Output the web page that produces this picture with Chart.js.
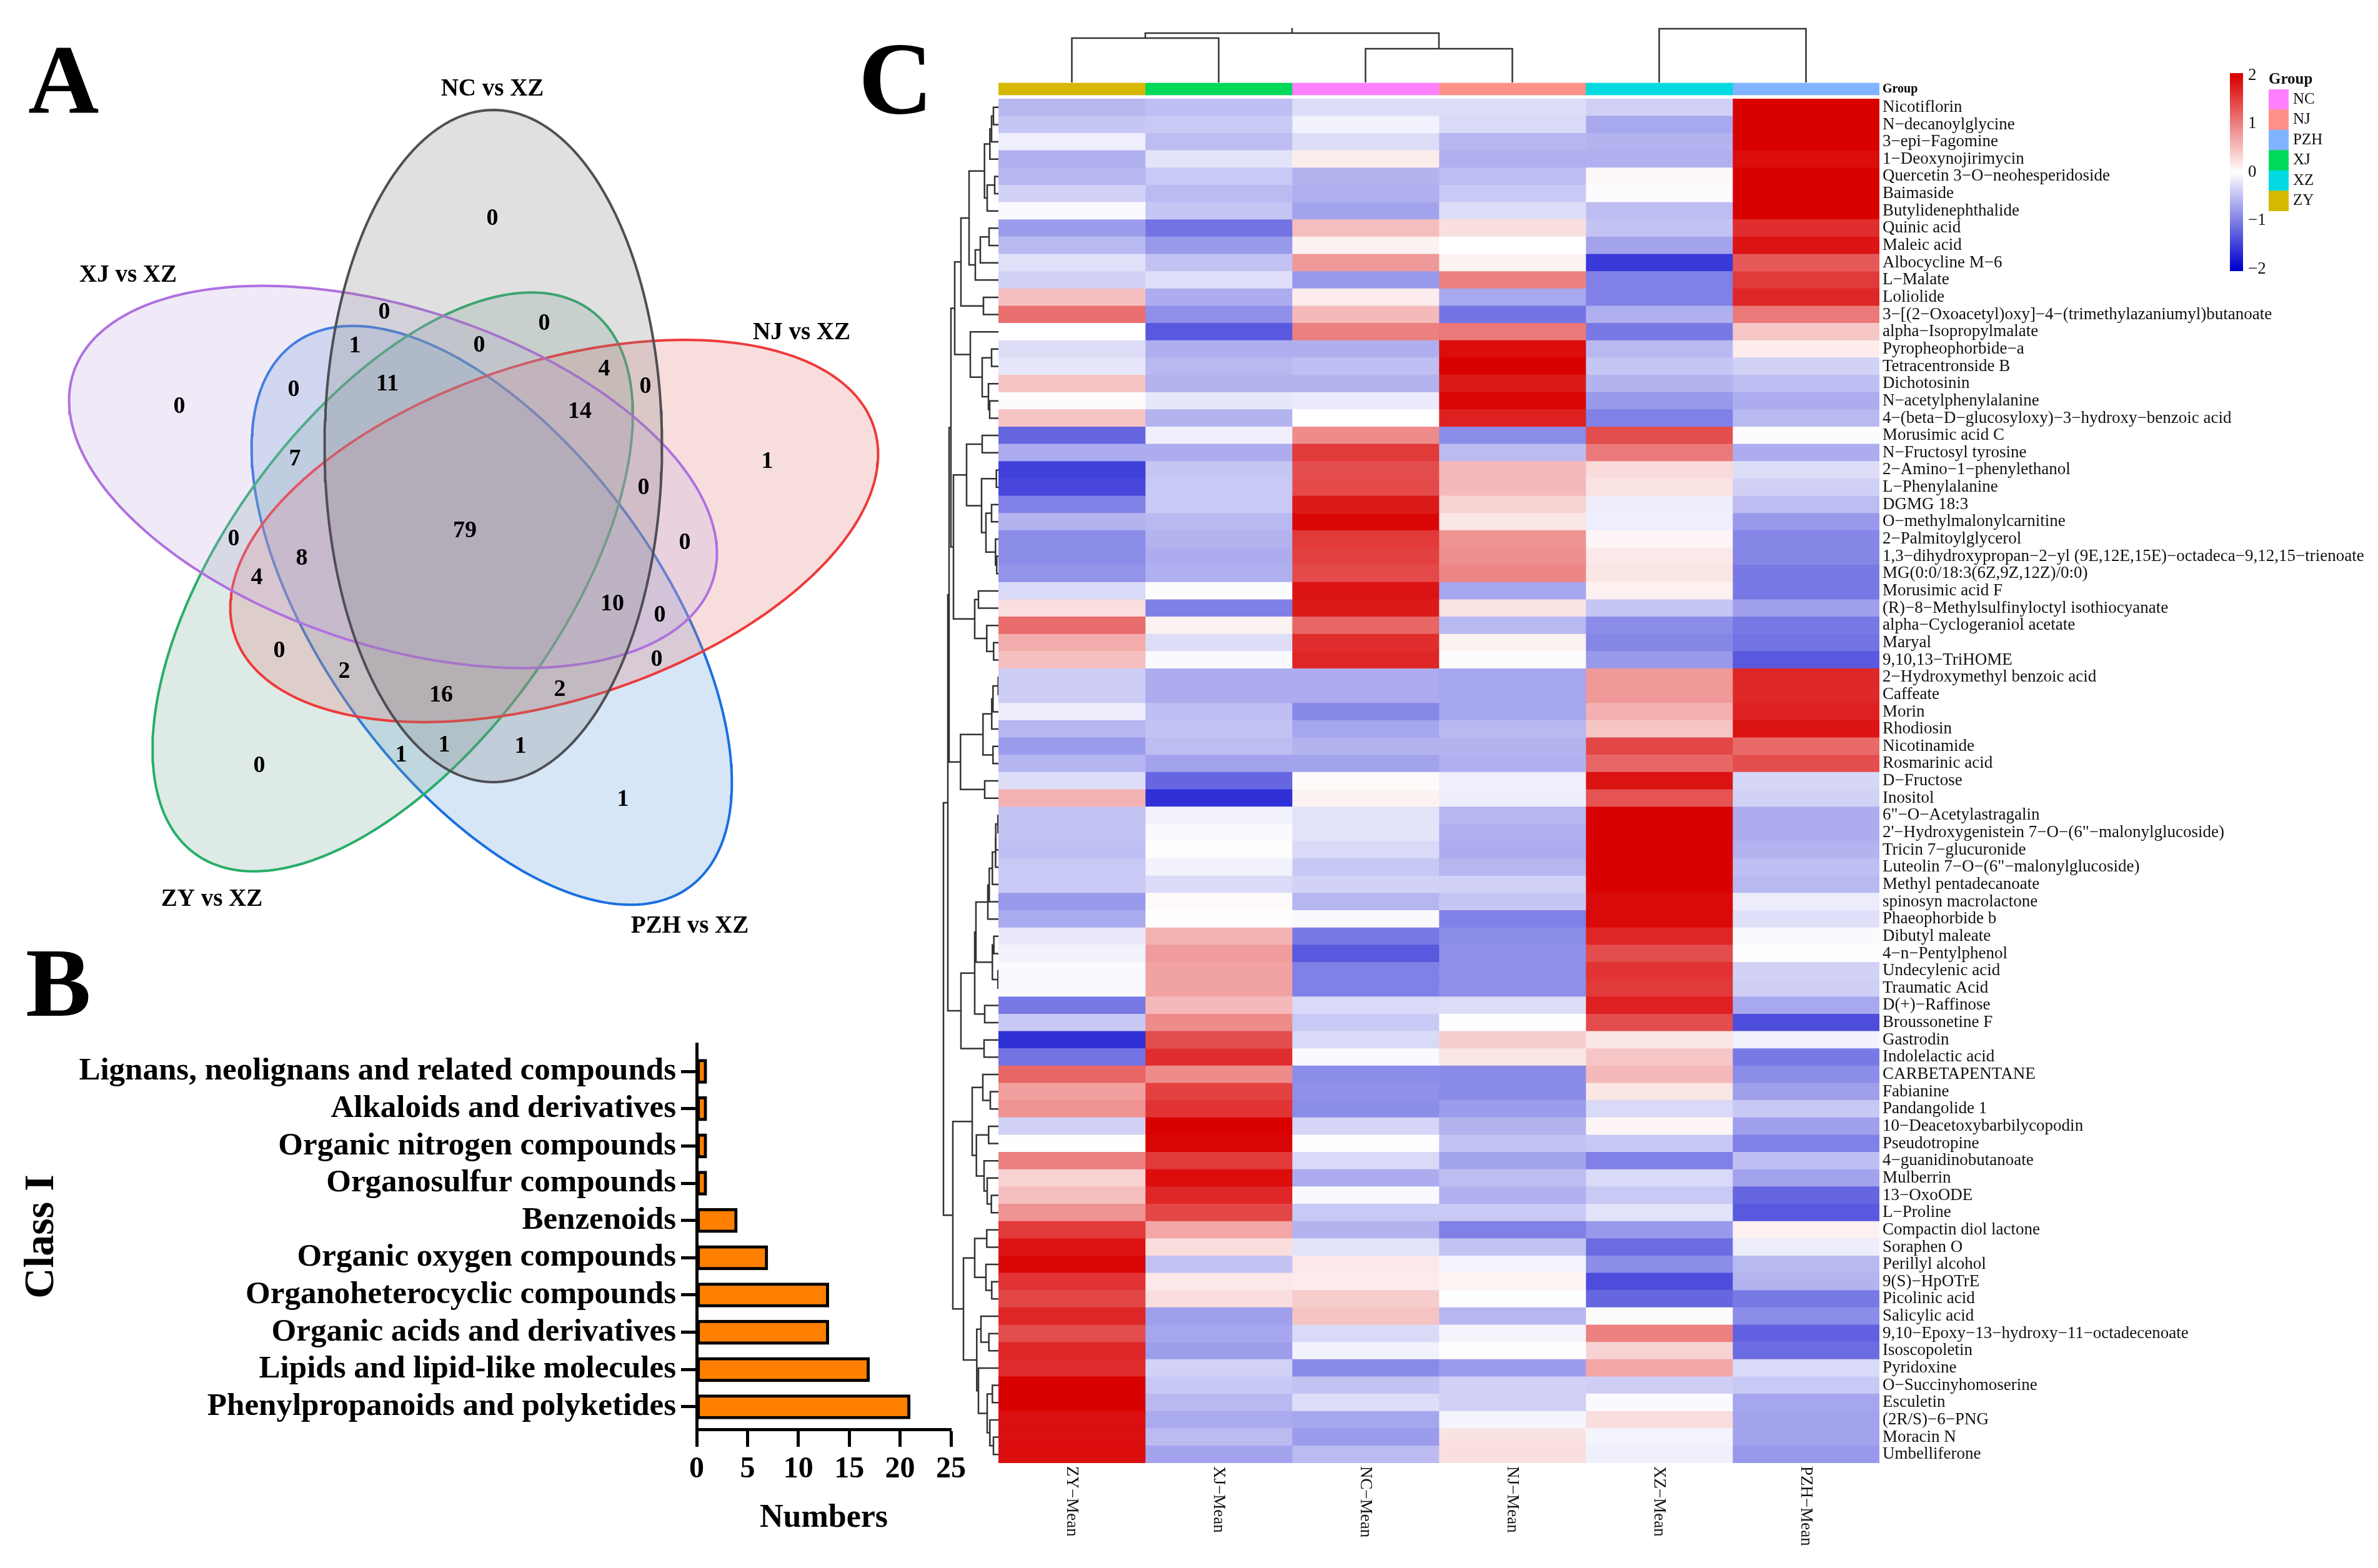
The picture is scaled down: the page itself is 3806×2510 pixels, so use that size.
<!DOCTYPE html>
<html>
<head>
<meta charset="utf-8">
<title>Metabolite comparison</title>
<script src="https://cdn.jsdelivr.net/npm/chart.js@4/dist/chart.umd.js"></script>
<style>
html,body{margin:0;padding:0;background:#fff;width:3806px;height:2510px;overflow:hidden}
canvas{position:absolute;display:block}
.panel{position:absolute;font:bold 165px/1 "Liberation Serif",serif;color:#000}
</style>
</head>
<body>
<div class="panel" style="left:45px;top:49px;font-size:157px">A</div>
<div class="panel" style="left:1374px;top:43px">C</div>
<div class="panel" style="left:41px;top:1495px;font-size:157px">B</div>
<script>
/* ---------- Panel A : Venn ---------- */
const vennSetNames = ["NC vs XZ","XJ vs XZ","NJ vs XZ","ZY vs XZ","PZH vs XZ"];
const vennSetLabelX = [788,205,1283,339,1104];
const vennSetLabelY = [143,441,533,1440,1483];
const vennCentreX = [789.5,629,887,628.5,787];
const vennCentreY = [714,763.5,850,931.5,985];
const vennTilt = [0,-72,72,36,-36];
const vennLong = 538, vennShort = 270;
const vennFill = ["rgba(131,131,131,.25)","rgba(195,171,227,.25)","rgba(223,123,119,.25)","rgba(123,171,155,.25)","rgba(91,155,219,.25)"];
const vennStroke = ["#4f4f55","#b070e0","#ee3a3a","#27ae6a","#1a6fe0"];
const vennCounts = [0,0,0,1,0,11,0,0,4,0,14,1,7,0,79,0,0,8,4,10,0,0,0,2,2,16,1,1,1,0,1];
const vennCountX = [788,615,871,568,767,620,470,287,967,1033,928,1228,472,1030,744,374,1096,483,411,980,1056,447,1051,551,896,706,711,833,642,415,997];
const vennCountY = [350,500,518,554,553,615,624,651,591,619,659,739,735,781,850,863,869,894,925,967,985,1042,1056,1075,1104,1113,1193,1195,1209,1226,1280];

/* ---------- Panel B : bars ---------- */
const classNames = ["Lignans, neolignans and related compounds","Alkaloids and derivatives","Organic nitrogen compounds","Organosulfur compounds","Benzenoids","Organic oxygen compounds","Organoheterocyclic compounds","Organic acids and derivatives","Lipids and lipid-like molecules","Phenylpropanoids and polyketides"];
const classCounts = [1,1,1,1,4,7,13,13,17,21];

/* ---------- Panel C : heatmap ---------- */
const heatColumns = ["ZY−Mean","XJ−Mean","NC−Mean","NJ−Mean","XZ−Mean","PZH−Mean"];
const groupColours = ["#d6b800","#00d95a","#ff80ff","#ff9088","#00d9e0","#80b4ff"];
const legendGroups = ["NC","NJ","PZH","XJ","XZ","ZY"];
const legendColours = ["#ff80ff","#ff9088","#80b4ff","#00d95a","#00d9e0","#d6b800"];
const metabolites = ["Nicotiflorin","N−decanoylglycine","3−epi−Fagomine","1−Deoxynojirimycin","Quercetin 3−O−neohesperidoside","Baimaside","Butylidenephthalide","Quinic acid","Maleic acid","Albocycline M−6","L−Malate","Loliolide","3−[(2−Oxoacetyl)oxy]−4−(trimethylazaniumyl)butanoate","alpha−Isopropylmalate","Pyropheophorbide−a","Tetracentronside B","Dichotosinin","N−acetylphenylalanine","4−(beta−D−glucosyloxy)−3−hydroxy−benzoic acid","Morusimic acid C","N−Fructosyl tyrosine","2−Amino−1−phenylethanol","L−Phenylalanine","DGMG 18:3","O−methylmalonylcarnitine","2−Palmitoylglycerol","1,3−dihydroxypropan−2−yl (9E,12E,15E)−octadeca−9,12,15−trienoate","MG(0:0/18:3(6Z,9Z,12Z)/0:0)","Morusimic acid F","(R)−8−Methylsulfinyloctyl isothiocyanate","alpha−Cyclogeraniol acetate","Maryal","9,10,13−TriHOME","2−Hydroxymethyl benzoic acid","Caffeate","Morin","Rhodiosin","Nicotinamide","Rosmarinic acid","D−Fructose","Inositol","6\"−O−Acetylastragalin","2'−Hydroxygenistein 7−O−(6\"−malonylglucoside)","Tricin 7−glucuronide","Luteolin 7−O−(6\"−malonylglucoside)","Methyl pentadecanoate","spinosyn macrolactone","Phaeophorbide b","Dibutyl maleate","4−n−Pentylphenol","Undecylenic acid","Traumatic Acid","D(+)−Raffinose","Broussonetine F","Gastrodin","Indolelactic acid","CARBETAPENTANE","Fabianine","Pandangolide 1","10−Deacetoxybarbilycopodin","Pseudotropine","4−guanidinobutanoate","Mulberrin","13−OxoODE","L−Proline","Compactin diol lactone","Soraphen O","Perillyl alcohol","9(S)−HpOTrE","Picolinic acid","Salicylic acid","9,10−Epoxy−13−hydroxy−11−octadecenoate","Isoscopoletin","Pyridoxine","O−Succinyhomoserine","Esculetin","(2R/S)−6−PNG","Moracin N","Umbelliferone"];
const heatRows = [
[-.56,-.5,-.27,-.27,-.37,2],[-.45,-.42,-.1,-.3,-.68,2],[-.13,-.52,-.27,-.57,-.6,2],[-.61,-.22,.14,-.62,-.62,1.9],
[-.57,-.42,-.6,-.52,.05,2],[-.35,-.53,-.62,-.42,-.02,2],[-.04,-.45,-.72,-.27,-.52,2],[-.78,-1.1,.52,.25,-.47,1.65],
[-.55,-.8,.1,0,-.72,1.85],[-.24,-.47,.8,.1,-1.55,1.3],[-.35,-.25,-.8,1,-1,1.55],[.5,-.65,.15,-.68,-1,1.7],
[1.12,-.88,.55,-1.1,-.62,1.05],[0,-1.3,1,1.05,-1.05,.45],[-.27,-.63,-.63,1.9,-.55,.15],[-.2,-.55,-.5,2,-.45,-.35],
[.47,-.6,-.6,1.8,-.6,-.5],[.03,-.19,-.16,1.95,-.8,-.65],[.47,-.6,0,1.75,-1,-.55],[-1.2,-.12,.9,-.9,1.4,-.02],
[-.65,-.65,1.55,-.53,1.05,-.65],[-1.5,-.45,1.4,.55,.28,-.27],[-1.45,-.42,1.42,.55,.22,-.37],[-1,-.42,1.8,.35,-.14,-.52],
[-.6,-.55,1.95,.2,-.13,-.8],[-.9,-.6,1.55,.85,.08,-.95],[-.9,-.65,1.5,.88,.18,-.95],[-.85,-.62,1.42,.95,.2,-1.05],
[-.3,-.02,1.85,-.7,.12,-1.05],[.25,-1,1.8,.22,-.45,-.75],[1.15,.1,1.2,-.55,-.9,-1.05],[.65,-.27,1.65,.1,-.95,-1.1],
[.5,-.05,1.7,-.02,-.8,-1.3],[-.4,-.65,-.65,-.7,.8,1.7],[-.4,-.65,-.65,-.7,.8,1.68],[-.15,-.5,-.93,-.7,.62,1.75],
[-.57,-.47,-.7,-.55,.45,1.85],[-.78,-.52,-.6,-.6,1.45,1.18],[-.58,-.72,-.72,-.62,1.2,1.4],[-.27,-1.2,.04,-.13,1.85,-.32],
[.6,-1.62,.1,-.14,1.35,-.35],[-.48,-.1,-.23,-.57,2,-.65],[-.47,-.05,-.22,-.62,2,-.65],[-.5,.02,-.3,-.65,2,-.6],
[-.42,-.1,-.43,-.57,2,-.5],[-.42,-.28,-.35,-.37,2,-.55],[-.8,.04,-.57,-.45,1.92,-.15],[-.67,-.01,-.05,-1,1.92,-.25],
[-.17,.6,-1.05,-.9,1.7,-.04],[-.1,.78,-1.3,-.88,1.4,-.01],[-.04,.72,-1,-.87,1.6,-.35],[-.04,.72,-1,-.87,1.55,-.38],
[-1.05,.55,-.3,-.27,1.75,-.68],[-.43,.9,-.42,-.01,1.4,-1.4],[-1.62,1.4,-.3,.4,.2,-.1],[-1.1,1.65,-.05,.2,.45,-1.05],
[1.2,.9,-.9,-.92,.55,-.9],[.75,1.5,-.87,-.92,.2,-.75],[.85,1.6,-.9,-.78,-.3,-.43],[-.35,2,-.33,-.6,.08,-.75],
[-.01,1.95,-.01,-.47,-.43,-1],[1,1.55,-.3,-.72,-1,-.5],[.35,1.9,-.65,-.52,-.3,-.72],[.5,1.7,-.05,-.62,-.42,-1.2],
[.85,1.45,-.42,-.42,-.23,-1.3],[1.55,.7,-.6,-1,-.8,.12],[1.85,.27,-.22,-.48,-1.15,-.14],[1.95,-.48,.18,-.09,-.9,-.55],
[1.6,.18,.15,.09,-1.4,-.6],[1.45,.27,.4,-.01,-1.2,-1.05],[1.7,-.75,.47,-.57,.03,-.9],[1.4,-.7,-.3,-.09,1,-1.25],
[1.7,-.77,-.1,-.01,.35,-1.15],[1.65,-.35,-.92,-.78,.7,-.3],[2,-.43,-.48,-.35,-.38,-.42],[2,-.55,-.27,-.37,-.04,-.7],
[1.88,-.67,-.7,-.09,.27,-.72],[1.88,-.53,-.78,.23,-.09,-.72],[1.9,-.72,-.53,.25,-.12,-.8]];

/* dendrogram merges: [height, childA, childB], a child is a leaf index or another merge */
const treeA = [60,[47,[22.3,[13.7,[11,[8,0,1],2],3],[18,[6,4,5],6]],[37,[29,[15,7,8],9],10]],[24,11,12]];
const treeB = [45,13,[26,[11,14,15],[16,16,[14,17,18]]]];
const treeC1 = [51,[26,19,20],[27,[3.3,21,22],[20,[11,23,24],[4.7,25,[2.7,26,27]]]]];
const treeC2 = [38,[32,28,29],[18.7,30,[7.7,31,32]]];
const treeD = [60.7,[24.7,[10.7,[8.7,[.3,33,34],35],36],[8.7,37,38]],[22,39,40]];
const treeE = [60,[38,[36,[17,[14.7,[9.7,[4.6,[4.3,[.7,41,42],43],44],45],46],47],[9.7,[7.3,48,49],[.7,50,51]]],[22,52,53]],[23,54,55]];
const treeF = [42,[25,56,[13,57,58]],[35.3,[15.7,59,60],[23,61,[18,62,[11.3,63,64]]]]];
const treeG = [56,[38,[18.7,65,66],[20,67,[10.7,68,69]]],[34.7,[28,70,[15.3,71,72]],[32,73,[18,[9.7,74,75],[13.7,76,[8,77,78]]]]]];
const rowTree = [88,[81,[79,[76,[70,treeA,treeB],[72,treeC1,treeC2]],treeD],treeE],[73,treeF,treeG]];
const colTreeLeft = [79,[71,0,1],[54,2,3]];
const colTreeRight = [86,4,5];
const colStemTop = 86;

/* ---------- helpers ---------- */
const SERIF = '"Liberation Serif", serif';
Chart.defaults.font.family = SERIF;
Chart.defaults.color = '#000';
Chart.defaults.plugins.legend.display = false;
Chart.defaults.plugins.tooltip.enabled = false;

function make(left, top, w, h, config){
  const c = document.createElement('canvas');
  c.width = w; c.height = h;
  c.style.left = left + 'px'; c.style.top = top + 'px';
  c.style.width = w + 'px'; c.style.height = h + 'px';
  document.body.appendChild(c);
  config.options = Object.assign({responsive:false, maintainAspectRatio:false, animation:false, devicePixelRatio:1}, config.options);
  return new Chart(c, config);
}
function heatColour(z){
  const t = Math.min(1, Math.abs(z) / 2);
  const v = Math.round(255 - 255 * t);
  return z >= 0 ? `rgb(${Math.round(255 - 38 * t)},${v},${v})` : `rgb(${v},${v},${Math.round(255 - 50 * t)})`;
}
/* walk a merge tree into a broken polyline; returns the leaf-axis position of the node */
function walkTree(node, out){
  if (typeof node === 'number') return {pos: node + .5, h: 0};
  const a = walkTree(node[1], out), b = walkTree(node[2], out);
  out.push({h:a.h, p:a.pos},{h:node[0], p:a.pos},{h:node[0], p:b.pos},{h:b.h, p:b.pos},{h:NaN, p:NaN});
  return {pos:(a.pos + b.pos) / 2, h:node[0]};
}

/* ---------- Venn ---------- */
function ellipseOutline(i){
  const phi = vennTilt[i] * Math.PI / 180, pts = [];
  for (let k = 0; k <= 240; k++){
    const t = k / 240 * 2 * Math.PI, u = vennLong * Math.cos(t), v = vennShort * Math.sin(t);
    pts.push({x: vennCentreX[i] + u * Math.sin(phi) + v * Math.cos(phi),
              y: vennCentreY[i] - u * Math.cos(phi) + v * Math.sin(phi)});
  }
  return pts;
}
make(0,0,1500,1560,{
  type:'scatter',
  data:{datasets:vennSetNames.map((n,i)=>({label:n,data:ellipseOutline(i),showLine:true,fill:'shape',
    backgroundColor:vennFill[i],borderColor:vennStroke[i],borderWidth:4,pointRadius:0,tension:0}))},
  options:{layout:{padding:0},scales:{x:{display:false,min:0,max:1500},y:{display:false,min:0,max:1560,reverse:true}}},
  plugins:[{id:'vennText',afterDatasetsDraw(chart){
    const {ctx,scales:{x,y}} = chart;
    ctx.save(); ctx.fillStyle='#000'; ctx.textAlign='center'; ctx.textBaseline='middle';
    ctx.font='bold 38px '+SERIF;
    vennCounts.forEach((v,i)=>ctx.fillText(String(v),x.getPixelForValue(vennCountX[i]),y.getPixelForValue(vennCountY[i])));
    ctx.font='bold 39px '+SERIF;
    vennSetNames.forEach((n,i)=>ctx.fillText(n,x.getPixelForValue(vennSetLabelX[i]),y.getPixelForValue(vennSetLabelY[i])));
    ctx.restore();
  }}]
});

/* ---------- Bars ---------- */
make(0,1600,1600,880,{
  type:'bar',
  data:{datasets:[{data:classCounts.map((v,i)=>({x:v,y:i})),backgroundColor:'#ff8000',borderColor:'#000',borderWidth:5,borderSkipped:false,barThickness:39}]},
  options:{
    indexAxis:'y',
    layout:{padding:{top:71,right:78,left:0,bottom:0}},
    scales:{
      x:{type:'linear',min:0,max:25,
        ticks:{stepSize:5,font:{size:48,weight:'bold'},padding:8,maxRotation:0},
        grid:{drawOnChartArea:false,tickLength:28,tickWidth:5,tickColor:'#000'},
        border:{color:'#000',width:5},
        title:{display:true,text:'Numbers',font:{size:52,weight:'bold'},padding:{top:0,bottom:18}},
        afterFit(s){s.height=192;}},
      y:{type:'linear',reverse:true,min:-.738,max:9.604,offset:false,
        afterBuildTicks(s){s.ticks=classNames.map((_,i)=>({value:i}));},
        ticks:{autoSkip:false,callback:v=>classNames[v],font:{size:51,weight:'bold'},padding:8},
        grid:{offset:false,drawOnChartArea:false,tickLength:25,tickWidth:5,tickColor:'#000'},
        border:{color:'#000',width:5},
        title:{display:true,text:'Class I',font:{size:68,weight:'bold'},padding:{top:27,bottom:0}},
        afterFit(s){s.width=1115;}}
    }
  }
});

/* ---------- Column dendrogram ---------- */
const colSegs = [];
const colA = walkTree(colTreeLeft,colSegs); walkTree(colTreeRight,colSegs);
colSegs.push({h:colA.h,p:colA.pos},{h:colStemTop,p:colA.pos});
make(1598,30,1410,102,{
  type:'scatter',
  data:{datasets:[{data:colSegs.map(s=>({x:s.p,y:s.h})),showLine:true,spanGaps:false,pointRadius:0,borderColor:'#333',borderWidth:2.5,borderCapStyle:'square',clip:false}]},
  options:{layout:{padding:0},scales:{x:{display:false,min:0,max:6},y:{display:false,min:0,max:102}}}
});

/* ---------- Row dendrogram ---------- */
const rowSegs = [];
const rowRoot = walkTree(rowTree,rowSegs);
make(1490,158,108,2184,{
  type:'scatter',
  data:{datasets:[{data:rowSegs.map(s=>({x:s.h,y:s.p})),showLine:true,spanGaps:false,pointRadius:0,borderColor:'#333',borderWidth:2.5,borderCapStyle:'square',clip:false}]},
  options:{layout:{padding:0},scales:{x:{display:false,min:0,max:108,reverse:true},y:{display:false,min:0,max:79,reverse:true}}}
});

/* ---------- Group annotation strip ---------- */
make(1500,100,2306,90,{
  type:'bar',
  data:{labels:['Group'],datasets:heatColumns.map((c,i)=>({label:c,data:[[i,i+1]],backgroundColor:groupColours[i],borderWidth:0}))},
  options:{
    indexAxis:'y',
    layout:{padding:{left:98,top:32.5,bottom:37.5,right:0}},
    datasets:{bar:{grouped:false,barPercentage:1,categoryPercentage:1}},
    scales:{x:{display:false,type:'linear',min:0,max:6},
      y:{position:'right',grid:{display:false,drawTicks:false},border:{display:false},
        ticks:{font:{size:20,weight:'bold'},padding:5},afterFit(s){s.width=798;}}}
  }
});

/* ---------- Heatmap ---------- */
make(1500,100,2306,2410,{
  type:'bar',
  data:{labels:metabolites,datasets:heatColumns.map((c,i)=>({
    label:c,
    data:metabolites.map(()=>[i,i+1]),
    backgroundColor:heatRows.map(r=>heatColour(r[i])),
    borderWidth:0}))},
  options:{
    indexAxis:'y',
    layout:{padding:{left:98,top:58,bottom:168,right:0}},
    datasets:{bar:{grouped:false,barPercentage:1,categoryPercentage:1}},
    scales:{x:{display:false,type:'linear',min:0,max:6},
      y:{position:'right',grid:{display:false,drawTicks:false},border:{display:false},
        ticks:{autoSkip:false,font:{size:27},padding:5,color:'#111'},afterFit(s){s.width=798;}}}
  },
  plugins:[{id:'columnLabels',afterDraw(chart){
    const {ctx,chartArea,scales:{x}} = chart;
    heatColumns.forEach((t,i)=>{
      ctx.save();
      ctx.translate(x.getPixelForValue(i+.5),chartArea.bottom+5);
      ctx.rotate(Math.PI/2);
      ctx.font='27px '+SERIF; ctx.fillStyle='#111'; ctx.textAlign='left'; ctx.textBaseline='middle';
      ctx.fillText(t,0,0);
      ctx.restore();
    });
  }}]
});

/* ---------- Colour bar ---------- */
const colourBarRange = [-2.04,2.05];
const colourBarTicks = [-2,-1,0,1,2];
make(3560,80,70,380,{
  type:'bar',
  data:{labels:['z'],datasets:[{data:[colourBarRange],borderWidth:0,
    backgroundColor(c){
      const {chart} = c; if(!chart.chartArea) return '#fff';
      const y = chart.scales.y, g = chart.ctx.createLinearGradient(0,y.getPixelForValue(2),0,y.getPixelForValue(-2));
      g.addColorStop(0,heatColour(2)); g.addColorStop(.5,heatColour(0)); g.addColorStop(1,heatColour(-2));
      return g;
    }}]},
  options:{
    layout:{padding:{left:9,top:37,bottom:26,right:0}},
    datasets:{bar:{barPercentage:1,categoryPercentage:1}},
    scales:{x:{display:false},
      y:{position:'right',min:colourBarRange[0],max:colourBarRange[1],
        afterBuildTicks(s){s.ticks=colourBarTicks.map(v=>({value:v}));},
        grid:{display:false,drawTicks:false},border:{display:false},
        ticks:{font:{size:27},padding:8,color:'#111',callback:v=>String(v).replace('-','−')},
        afterFit(s){s.width=40;}}}
  }
});

/* ---------- Group legend ---------- */
make(3625,100,120,260,{
  type:'bar',
  data:{labels:legendGroups,datasets:[{data:legendGroups.map(()=>[0,1]),backgroundColor:legendColours,borderWidth:0}]},
  options:{
    indexAxis:'y',
    layout:{padding:{left:6,top:0,bottom:17,right:0}},
    datasets:{bar:{barPercentage:1,categoryPercentage:1}},
    plugins:{title:{display:true,text:'Group',align:'start',font:{size:25,weight:'bold'},padding:{top:13,bottom:0},color:'#111'}},
    scales:{x:{display:false,type:'linear',min:0,max:1},
      y:{position:'right',grid:{display:false,drawTicks:false},border:{display:false},
        ticks:{autoSkip:false,font:{size:25},padding:7,color:'#111'},afterFit(s){s.width=82;}}}
  }
});
</script>
</body>
</html>
